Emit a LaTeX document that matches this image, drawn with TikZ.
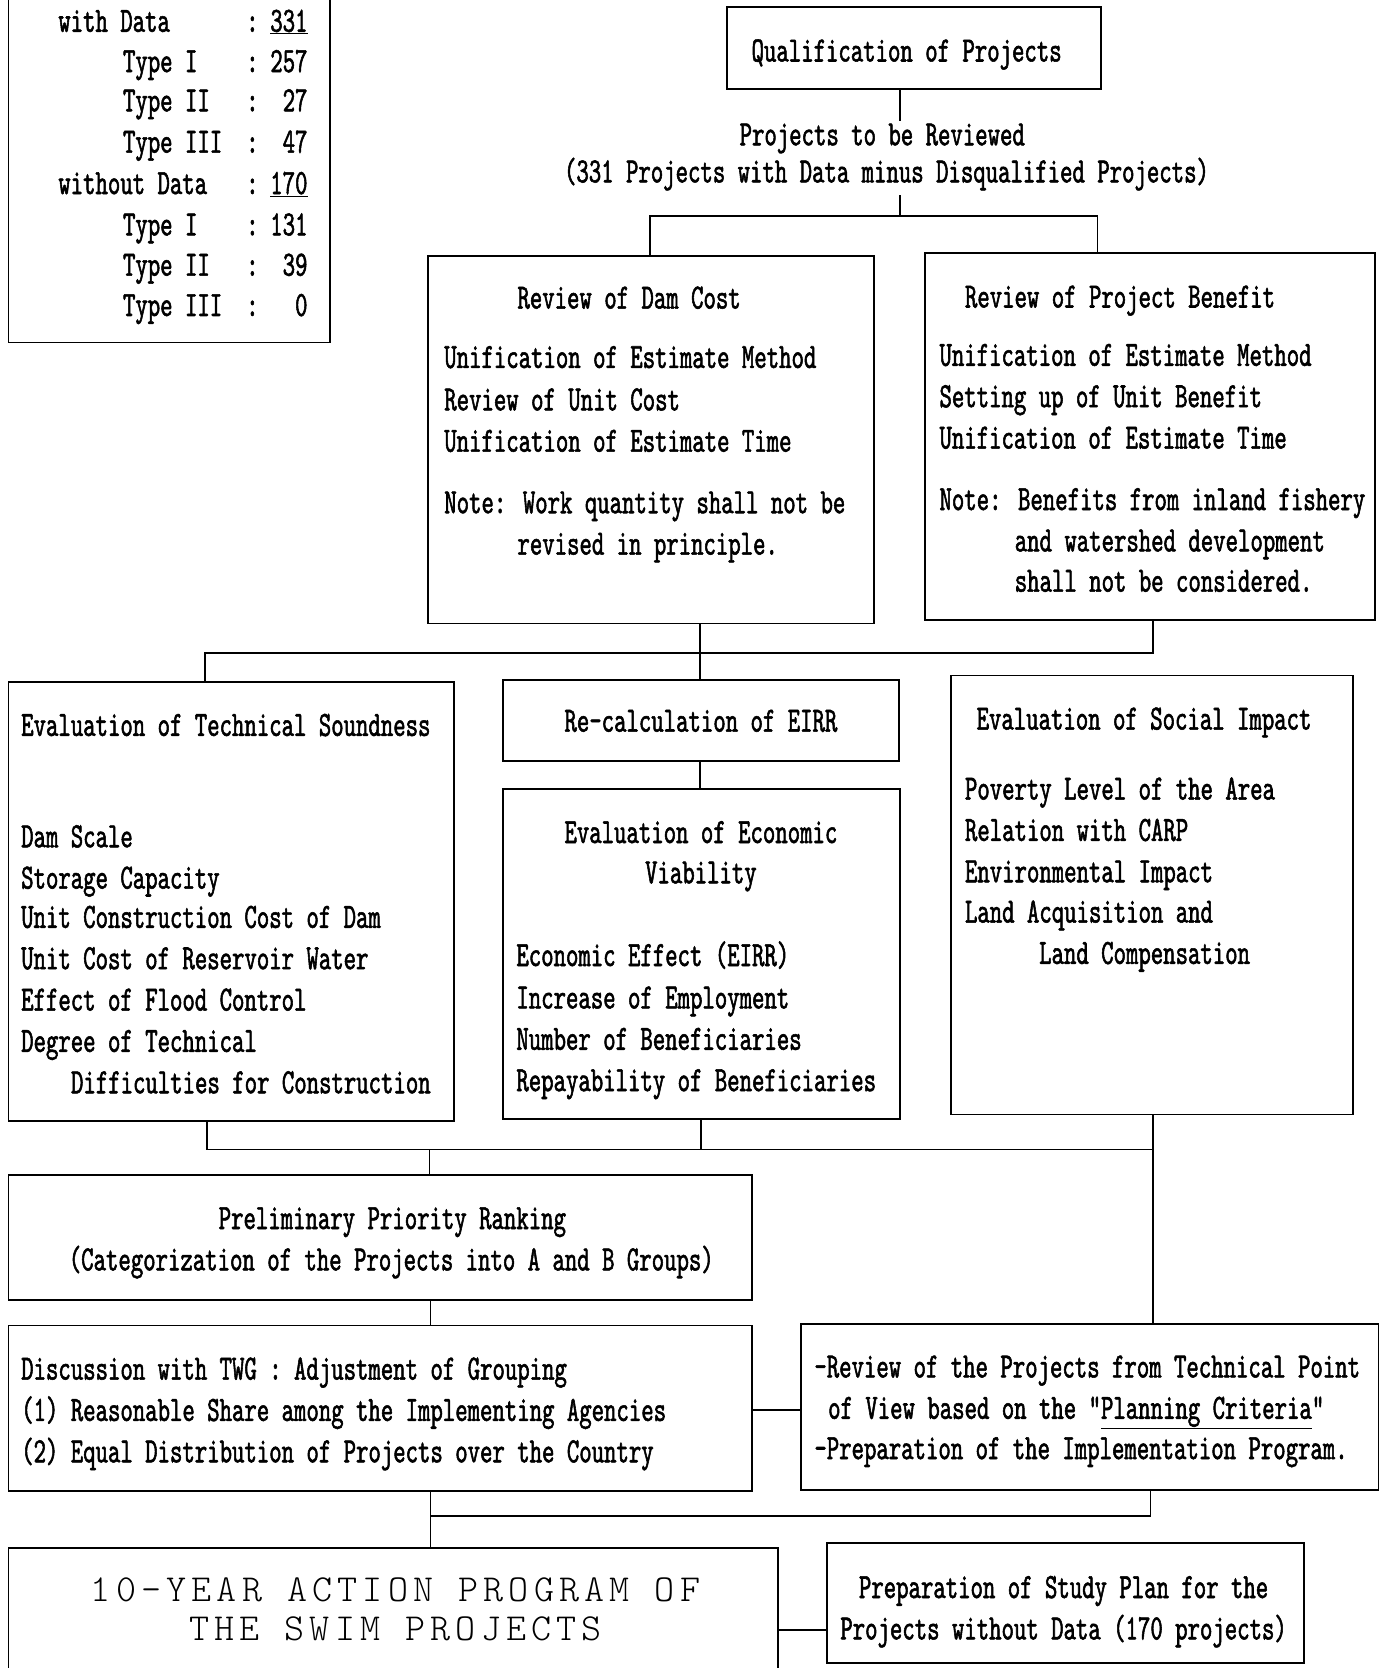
\documentclass[tikz,border=0pt]{standalone}
\usepackage{fontspec}
\setmainfont{lmmono10-regular.otf}[FakeStretch=0.665, FakeBold=1.5]
\newfontfamily\bigfont{lmmonolt10-regular.otf}[LetterSpace=13.5]
\tikzset{
  box/.style={draw, line width=1.8pt, inner sep=0pt, outer sep=0pt},
  conn/.style={line width=1.7pt},
  txt/.style={inner sep=0pt, outer sep=0pt, anchor=base west},
  ctxt/.style={inner sep=0pt, outer sep=0pt, anchor=base},
  rtxt/.style={inner sep=0pt, outer sep=0pt, anchor=base east},
}
\newcommand\bx[5]{\node[box, minimum width={#4-#2}, minimum height={#5-#3}] (#1) at ({(#2+#4)/2},{(#3+#5)/2}) {};}
\begin{document}
\begin{tikzpicture}[x=1pt, y=-1pt, font=\fontsize{33.5}{38.5}\selectfont]
\useasboundingbox (0,0) rectangle (1305,1573);
\fill[white] (0,0) rectangle (1305,1573);
% boxes
\bx{A}{8}{-20}{311}{323}
\bx{Q}{686}{7}{1038}{84}
\bx{DC}{404}{241}{824}{588}
\bx{PB}{872}{239}{1297}{585}
\bx{TS}{8}{643}{428}{1057}
\bx{EI}{474}{641}{848}{718}
\bx{EC}{474}{744}{849}{1055}
\bx{SI}{897}{637}{1276}{1051}
\bx{PR}{8}{1108}{709}{1226}
\bx{DS}{8}{1250}{709}{1406}
\bx{RV}{755}{1249}{1300}{1405}
\bx{AC}{8}{1460}{734}{1590}
\bx{ST}{780}{1455}{1230}{1568}
% counts box
\node[txt] (a1) at (55,30) {with Data};
\node[ctxt] (a1c) at (238,30) {:};
\node[rtxt] (a1n) at (290,30) {\underline{331}};
\node[txt] (a2) at (116,68) {Type I};
\node[ctxt] (a2c) at (238,68) {:};
\node[rtxt] (a2n) at (290,68) {257};
\node[txt] (a3) at (116,105) {Type II};
\node[ctxt] (a3c) at (238,105) {:};
\node[rtxt] (a3n) at (290,105) {27};
\node[txt] (a4) at (116,144) {Type III};
\node[ctxt] (a4c) at (238,144) {:};
\node[rtxt] (a4n) at (290,144) {47};
\node[txt] (a5) at (55,183) {without Data};
\node[ctxt] (a5c) at (238,183) {:};
\node[rtxt] (a5n) at (290,183) {\underline{170}};
\node[txt] (a6) at (116,222) {Type I};
\node[ctxt] (a6c) at (238,222) {:};
\node[rtxt] (a6n) at (290,222) {131};
\node[txt] (a7) at (116,260) {Type II};
\node[ctxt] (a7c) at (238,260) {:};
\node[rtxt] (a7n) at (290,260) {39};
\node[txt] (a8) at (116,298) {Type III};
\node[ctxt] (a8c) at (238,298) {:};
\node[rtxt] (a8n) at (290,298) {0};
% top
\node[ctxt] (qt) at (855,58) {Qualification of Projects};
\node[ctxt] (rv1) at (832,137) {Projects to be Reviewed};
\node[ctxt] (rv2) at (836,172) {(331 Projects with Data minus Disqualified Projects)};
% dam cost
\node[txt] (dc0) at (488,291) {Review of Dam Cost};
\node[txt] (dc1) at (419,347) {Unification of Estimate Method};
\node[txt] (dc2) at (419,387) {Review of Unit Cost};
\node[txt] (dc3) at (419,426) {Unification of Estimate Time};
\node[txt] (dc4) at (419,484) {Note: Work quantity shall not be};
\node[txt] (dc5) at (488,523) {revised in principle.};
% benefit
\node[txt] (pb0) at (910,290) {Review of Project Benefit};
\node[txt] (pb1) at (886,345) {Unification of Estimate Method};
\node[txt] (pb2) at (886,384) {Setting up of Unit Benefit};
\node[txt] (pb3) at (886,423) {Unification of Estimate Time};
\node[txt] (pb4) at (886,481) {Note: Benefits from inland fishery};
\node[txt] (pb5) at (957,520) {and watershed development};
\node[txt] (pb6) at (957,558) {shall not be considered.};
% technical
\node[txt] (ts0) at (20,694) {Evaluation of Technical Soundness};
\node[txt] (ts1) at (20,799) {Dam Scale};
\node[txt] (ts2) at (20,838) {Storage Capacity};
\node[txt] (ts3) at (20,875) {Unit Construction Cost of Dam};
\node[txt] (ts4) at (20,914) {Unit Cost of Reservoir Water};
\node[txt] (ts5) at (20,953) {Effect of Flood Control};
\node[txt] (ts6) at (20,992) {Degree of Technical};
\node[txt] (ts7) at (67,1031) {Difficulties for Construction};
% EIRR
\node[ctxt] (ei0) at (661,690) {Re-calculation of EIRR};
% economic
\node[ctxt] (ec0) at (661,795) {Evaluation of Economic};
\node[ctxt] (ec1) at (661,833) {Viability};
\node[txt] (ec2) at (487,911) {Economic Effect (EIRR)};
\node[txt] (ec3) at (487,951) {Increase of Employment};
\node[txt] (ec4) at (487,990) {Number of Beneficiaries};
\node[txt] (ec5) at (487,1029) {Repayability of Beneficiaries};
% social
\node[txt] (si0) at (921,688) {Evaluation of Social Impact};
\node[txt] (si1) at (910,754) {Poverty Level of the Area};
\node[txt] (si2) at (910,793) {Relation with CARP};
\node[txt] (si3) at (910,832) {Environmental Impact};
\node[txt] (si4) at (910,870) {Land Acquisition and};
\node[txt] (si5) at (980,909) {Land Compensation};
% preliminary
\node[ctxt] (pr0) at (370,1159) {Preliminary Priority Ranking};
\node[ctxt] (pr1) at (369,1198) {(Categorization of the Projects into A and B Groups)};
% discussion
\node[txt] (ds0) at (20,1301) {Discussion with TWG : Adjustment of Grouping};
\node[txt] (ds1) at (20,1340) {(1) Reasonable Share among the Implementing Agencies};
\node[txt] (ds2) at (20,1379) {(2) Equal Distribution of Projects over the Country};
% review
\node[txt] (rw0) at (768,1299) {-Review of the Projects from Technical Point};
\node[txt] (rw1) at (781,1338) {of View based on the "\underline{Planning Criteria}"};
\node[txt] (rw2) at (768,1376) {-Preparation of the Implementation Program.};
% action
\node[ctxt, font=\bigfont\fontsize{36}{38}\selectfont] (ac0) at (373,1510) {10-YEAR ACTION PROGRAM OF};
\node[ctxt, font=\bigfont\fontsize{36}{38}\selectfont] (ac1) at (373,1547) {THE SWIM PROJECTS};
% study
\node[ctxt] (st0) at (1003,1507) {Preparation of Study Plan for the};
\node[ctxt] (st1) at (1003,1546) {Projects without Data (170 projects)};
% junction coordinates
\coordinate (jq) at (849,114);
\coordinate (j1) at (849,184);
\coordinate (jl) at (613,204);
\coordinate (jr) at (1035,204);
\coordinate (k0) at (193,616);
\coordinate (k1) at (660,616);
\coordinate (k2) at (1087,616);
\coordinate (m0) at (195,1084);
\coordinate (m1) at (661,1084);
\coordinate (m2) at (1087,1084);
\coordinate (mp) at (405,1084);
\coordinate (n0) at (406,1236);
\coordinate (p0) at (730,1330);
\coordinate (q0) at (406,1430);
\coordinate (q1) at (1085,1430);
\coordinate (r0) at (756,1537);
% connectors
\draw[conn] (Q.south -| jq) -- (jq);
\draw[conn] (j1) -- (j1 |- jl);
\draw[conn] (DC.north -| jl) -- (jl) -- (jr) -- (PB.north -| jr);
\draw[conn] (DC.south -| k1) -- (EI.north -| k1);
\draw[conn] (PB.south -| k2) -- (k2) -- (k0) -- (TS.north -| k0);
\draw[conn] (EI.south -| k1) -- (EC.north -| k1);
\draw[conn] (TS.south -| m0) -- (m0) -- (m2);
\draw[conn] (EC.south -| m1) -- (m1);
\draw[conn] (SI.south -| m2) -- (RV.north -| m2);
\draw[conn] (mp) -- (PR.north -| mp);
\draw[conn] (PR.south -| n0) -- (DS.north -| n0);
\draw[conn] (DS.east |- p0) -- (RV.west |- p0);
\draw[conn] (DS.south -| q0) -- (AC.north -| q0);
\draw[conn] (RV.south -| q1) -- (q1) -- (q0);
\draw[conn] (AC.east |- r0) -- (ST.west |- r0);
\end{tikzpicture}
\end{document}
